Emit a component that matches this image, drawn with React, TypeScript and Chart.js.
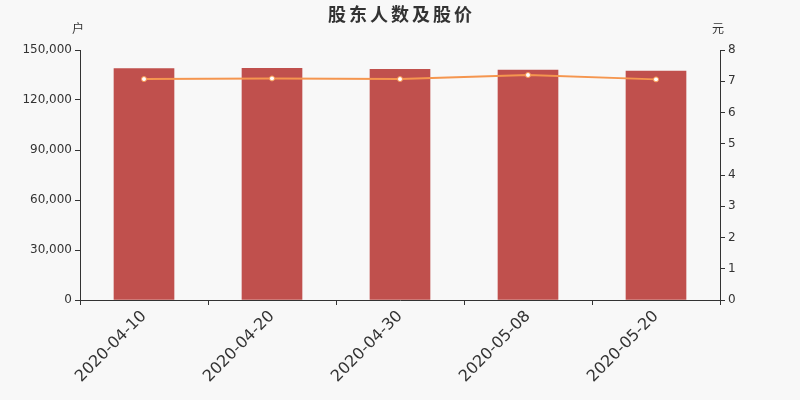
import React, { useEffect, useRef } from "react";
import { Chart, registerables } from "chart.js";

Chart.register(...registerables);

const categories = ["2020-04-10", "2020-04-20", "2020-04-30", "2020-05-08", "2020-05-20"];
const holders = [138900, 139000, 138400, 137900, 137300];
const prices = [7.07, 7.09, 7.07, 7.2, 7.06];
const titleText = "股东人数及股价";
const leftUnit = "户";
const rightUnit = "元";

const FONT = "'DejaVu Sans', 'Noto Sans CJK SC', sans-serif";

export default function App() {
  const ref = useRef<HTMLCanvasElement | null>(null);
  useEffect(() => {
    if (!ref.current) return;
    const deco = {
      id: "deco",
      beforeDraw(chart: any) {
        const c = chart.ctx;
        c.save();
        c.fillStyle = "#f8f8f8";
        c.fillRect(0, 0, chart.width, chart.height);
        c.restore();
      },
      afterDraw(chart: any) {
        const c = chart.ctx;
        const a = chart.chartArea;
        c.save();
        c.fillStyle = "#333";
        c.textAlign = "center";
        c.textBaseline = "middle";
        c.font = "bold 18px 'Noto Sans CJK SC', sans-serif";
        try {
          (c as any).letterSpacing = "3px";
        } catch (e) {}
        c.fillText(titleText, 401.5, 14);
        try {
          (c as any).letterSpacing = "0px";
        } catch (e) {}
        c.font = "12px 'Noto Sans CJK SC', sans-serif";
        c.fillText(leftUnit, a.left - 2, 28);
        c.fillText(rightUnit, a.right - 2, 28);
        c.restore();
      },
    };
    const chart = new Chart(ref.current, {
      type: "bar",
      data: {
        labels: categories,
        datasets: [
          {
            type: "line",
            label: "股价",
            data: prices,
            yAxisID: "y1",
            borderColor: "#f5964f",
            borderWidth: 2,
            pointBackgroundColor: "#ffffff",
            pointBorderColor: "#f5964f",
            pointBorderWidth: 1,
            pointRadius: 2.5,
            tension: 0,
            order: 0,
          } as any,
          {
            type: "bar",
            label: "股东人数",
            data: holders,
            yAxisID: "y",
            backgroundColor: "#c0504d",
            barThickness: 60,
            order: 1,
          },
        ],
      },
      plugins: [deco],
      options: {
        animation: false,
        responsive: false,
        maintainAspectRatio: false,
        layout: { padding: { top: 50, left: 0, right: 0, bottom: 0 } },
        plugins: {
          legend: { display: false },
          title: { display: false },
          tooltip: { enabled: false },
        },
        scales: {
          x: {
            offset: true,
            grid: { offset: true, drawOnChartArea: false, drawTicks: true, tickLength: 5, color: "#333" },
            border: { display: true, color: "#333", width: 1 },
            ticks: {
              maxRotation: 45,
              minRotation: 45,
              color: "#333",
              font: { family: FONT, size: 16 },
              padding: 2,
            },
            afterFit(scale: any) {
              scale.height = 100;
            },
          },
          y: {
            position: "left",
            min: 0,
            max: 150000,
            grid: { drawOnChartArea: false, drawTicks: true, tickLength: 5, color: "#333" },
            border: { display: true, color: "#333", width: 1 },
            ticks: {
              stepSize: 30000,
              color: "#333",
              padding: 3,
              font: { family: FONT, size: 12 },
              callback: (v: any) => Number(v).toLocaleString("en-US"),
            },
            afterFit(scale: any) {
              scale.width = 80;
            },
          },
          y1: {
            position: "right",
            min: 0,
            max: 8,
            grid: { drawOnChartArea: false, drawTicks: true, tickLength: 5, color: "#333" },
            border: { display: true, color: "#333", width: 1 },
            ticks: {
              stepSize: 1,
              color: "#333",
              padding: 3,
              font: { family: FONT, size: 12 },
            },
            afterFit(scale: any) {
              scale.width = 80;
            },
          },
        },
      },
    });
    return () => chart.destroy();
  }, []);
  return (
    <div style={{ position: "fixed", left: 0, top: 0, width: 800, height: 400 }}>
      <canvas ref={ref} width={800} height={400} style={{ width: 800, height: 400 }} />
    </div>
  );
}
